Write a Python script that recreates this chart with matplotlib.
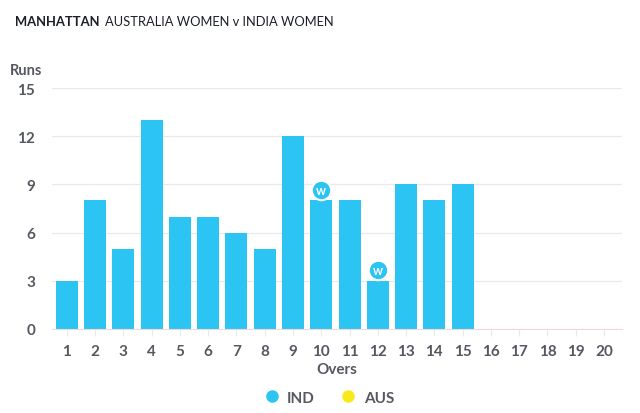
import matplotlib.pyplot as plt
from matplotlib.lines import Line2D

overs = list(range(1, 21))
ind_overs = list(range(1, 16))
ind_runs = [3, 8, 5, 13, 7, 7, 6, 5, 12, 8, 8, 3, 9, 8, 9]
wicket_overs = [10, 12]
yticks = [0, 3, 6, 9, 12, 15]

IND_COLOR = "#2bc4f3"
AUS_COLOR = "#f7ea1c"
TEXT_COLOR = "#555860"

plt.rcParams['font.family'] = ['Lato', 'DejaVu Sans']

fig = plt.figure(figsize=(6.4, 4.14), dpi=100)
ax = fig.add_axes([0.081, 0.203, 0.891, 0.582])

ax.bar(ind_overs, ind_runs, width=0.78, color=IND_COLOR, zorder=2)

# wicket markers
for o in wicket_overs:
    r = ind_runs[o - 1]
    ax.plot(o, r + 0.65, 'o', ms=14, color=IND_COLOR, mec='white', mew=1.5, zorder=3, clip_on=False)
    ax.text(o, r + 0.65, "w", ha='center', va='center', color='white',
            fontsize=9, fontweight='bold', zorder=4)

ax.set_xlim(0.47, 20.64)
ax.set_ylim(0, 15)
ax.set_xticks(overs)
ax.set_yticks(yticks)
ax.tick_params(axis='y', length=0, pad=12, labelsize=11, labelcolor=TEXT_COLOR)
ax.tick_params(axis='x', length=5, color='#e8e8ee', pad=6, labelsize=11, labelcolor=TEXT_COLOR)
for lab in ax.get_xticklabels() + ax.get_yticklabels():
    lab.set_fontweight('bold')

ax.grid(axis='y', color='#e8e8ee', lw=0.9, zorder=0)
for s in ['top', 'right', 'left']:
    ax.spines[s].set_visible(False)
ax.spines['bottom'].set_color('#f0d8dc')
ax.spines['bottom'].set_linewidth(0.8)

ax.set_xlabel("Overs", fontsize=11, fontweight='bold', color=TEXT_COLOR, labelpad=3)
fig.text(0.016, 0.818, "Runs", fontsize=10.5, fontweight='bold', color=TEXT_COLOR)

fig.text(0.023, 0.938, "MANHATTAN", fontsize=9.4, fontweight='bold', color='#1c1f2a')
fig.text(0.164, 0.938, "AUSTRALIA WOMEN v INDIA WOMEN", fontsize=9.3, color='#1c1f2a')

handles = [Line2D([], [], marker='o', ls='', ms=8, color=IND_COLOR, label='IND'),
           Line2D([], [], marker='o', ls='', ms=8, color=AUS_COLOR, label='AUS')]
leg = fig.legend(handles=handles, loc='center', bbox_to_anchor=(0.508, 0.037), ncol=2,
                 frameon=False, handletextpad=0.0, columnspacing=1.2,
                 prop={'weight': 'bold', 'size': 11})
for t in leg.get_texts():
    t.set_color(TEXT_COLOR)

fig.savefig("out.png", dpi=100)
